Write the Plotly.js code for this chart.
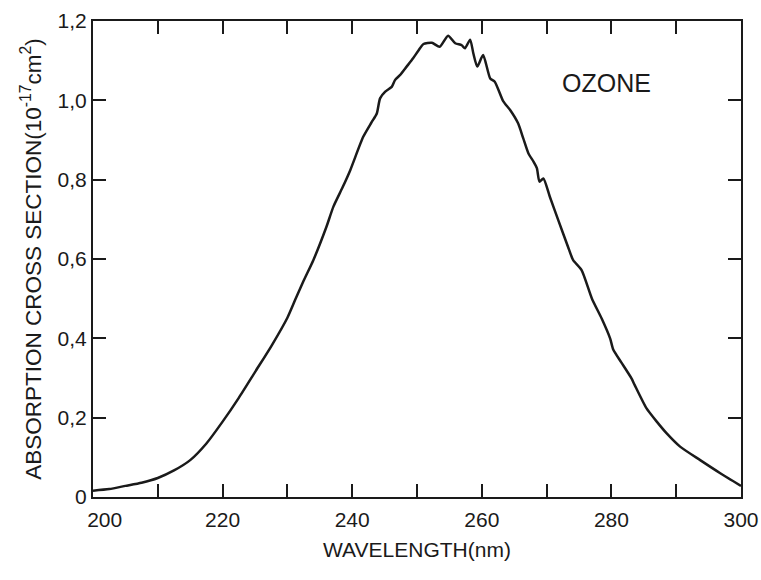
<!DOCTYPE html>
<html>
<head>
<meta charset="utf-8">
<script src="https://cdn.plot.ly/plotly-3.0.1.min.js"></script>
<style>html,body{margin:0;padding:0;background:#fff;}#chart{width:761px;height:580px;}</style>
</head>
<body>
<div id="chart"></div>
<script>
const wavelength = [200,202.5,205,207.5,210,212.5,215,217.5,220,222.5,225,227.5,230,231.2,232.5,234,236,237.1,238.5,239.7,241.7,243,243.8,244.3,245.1,246.1,246.6,247.4,248.4,249.4,250.2,251.0,252.3,253.5,254.8,255.9,256.9,257.4,258.2,258.7,259.3,260.2,261.3,262.0,263.3,264.4,265.6,266.4,267.2,268.0,268.5,268.9,269.5,270.5,271.8,273.3,274.1,275.4,277.0,278.5,279.8,280.3,281.5,283.1,283.6,285.4,287,288.5,290.6,293.7,296.8,300];
const crossSection = [0.016,0.020,0.028,0.036,0.048,0.067,0.093,0.135,0.19,0.25,0.315,0.38,0.452,0.497,0.545,0.597,0.68,0.732,0.78,0.824,0.908,0.945,0.967,1.005,1.022,1.034,1.051,1.064,1.085,1.106,1.125,1.142,1.145,1.135,1.163,1.144,1.139,1.131,1.153,1.118,1.085,1.114,1.055,1.047,0.998,0.975,0.942,0.904,0.866,0.845,0.829,0.795,0.803,0.757,0.698,0.631,0.597,0.572,0.500,0.45,0.400,0.371,0.34,0.299,0.282,0.224,0.19,0.161,0.127,0.093,0.060,0.028];
const xTickVals = [200,220,240,260,280,300];
const xTickText = ['\u00A0\u00A0\u00A0\u00A0200','220','240','260','280','300'];
const yTickVals = [0,0.2,0.4,0.6,0.8,1.0,1.2];
const yTickText = ['0','0,2','0,4','0,6','0,8','1,0','1,2'];
const label = 'OZONE';

const font = 'Liberation Sans, Arial, sans-serif';
const ink = '#1a1a1a';

Plotly.newPlot('chart', [{
  x: wavelength, y: crossSection, type: 'scatter', mode: 'lines',
  line: {color: ink, width: 2.5, shape: 'spline', smoothing: 0.6}, hoverinfo: 'skip'
}], {
  width: 761, height: 580,
  margin: {l: 93, r: 20, t: 21, b: 83},
  paper_bgcolor: '#fff', plot_bgcolor: '#fff',
  showlegend: false,
  font: {family: font, color: ink},
  xaxis: {
    range: [200, 300], tickmode: 'array', tickvals: xTickVals, ticktext: xTickText,
    ticks: 'inside', ticklen: 13, tickwidth: 2, tickcolor: ink, ticklabelstandoff: 3,
    minor: {dtick: 10, ticks: 'inside', ticklen: 13, tickwidth: 2, tickcolor: ink, showgrid: false},
    showline: true, linecolor: ink, linewidth: 2, mirror: 'ticks',
    showgrid: false, zeroline: false,
    tickfont: {size: 21, family: font, color: ink},
    title: {text: 'WAVELENGTH(nm)', font: {size: 21, family: font, color: ink}, standoff: 12}
  },
  yaxis: {
    range: [0, 1.2], tickmode: 'array', tickvals: yTickVals, ticktext: yTickText,
    ticks: 'inside', ticklen: 13, tickwidth: 2, tickcolor: ink,
    showline: true, linecolor: ink, linewidth: 2, mirror: 'ticks',
    showgrid: false, zeroline: false,
    tickfont: {size: 21, family: font, color: ink},
    title: {text: 'ABSORPTION CROSS SECTION(10<sup>-17</sup>cm<sup>2</sup>)', font: {size: 22.5, family: font, color: ink}, standoff: 10}
  },
  annotations: [{
    x: 279.3, y: 1.044, xref: 'x', yref: 'y', text: label, showarrow: false,
    font: {size: 25, family: font, color: ink}
  }]
}, {displayModeBar: false, staticPlot: true});
</script>
</body>
</html>
